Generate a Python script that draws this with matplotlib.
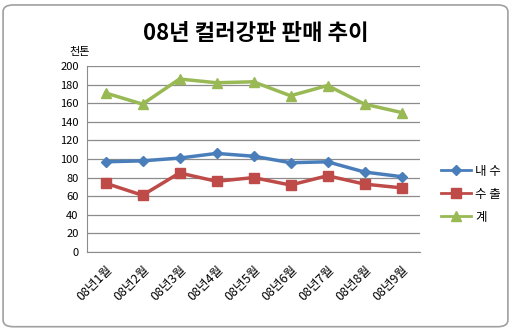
import matplotlib
matplotlib.use("Agg")
import matplotlib.pyplot as plt
from matplotlib.patches import FancyBboxPatch

plt.rcParams['font.family'] = ['Noto Sans CJK KR', 'DejaVu Sans']

months = ["08년1월", "08년2월", "08년3월", "08년4월", "08년5월",
          "08년6월", "08년7월", "08년8월", "08년9월"]
domestic = [97, 98, 101, 106, 103, 96, 97, 86, 81]
export = [74, 61, 85, 76, 80, 72, 82, 73, 69]
total = [171, 159, 186, 182, 183, 168, 179, 159, 150]

fig = plt.figure(figsize=(5.12, 3.30), dpi=100)
fig.patch.set_facecolor("white")

# rounded outer frame
frame = FancyBboxPatch((0.006, 0.01), 0.986, 0.975,
                       boxstyle="round,pad=0,rounding_size=0.02",
                       transform=fig.transFigure, fill=False,
                       edgecolor="#a0a0a0", linewidth=1.2)
fig.patches.append(frame)

ax = fig.add_axes([87 / 512, 1 - 252 / 330, 333 / 512, 186 / 330])
x = list(range(len(months)))

ax.plot(x, domestic, color="#4a7ebb", lw=2.5, marker="D", ms=5, label="내 수")
ax.plot(x, export, color="#be4b48", lw=2.5, marker="s", ms=7, label="수 출")
ax.plot(x, total, color="#98b954", lw=2.5, marker="^", ms=7, label="계")

ax.set_xlim(-0.5, len(months) - 0.5)
ax.set_ylim(0, 200)
ax.set_yticks(range(0, 201, 20))
ax.set_xticks(x)
ax.set_xticklabels(months, rotation=45, ha="right", rotation_mode="anchor",
                   fontsize=9)
ax.tick_params(axis="y", labelsize=8, length=0, pad=6)
ax.tick_params(axis="x", length=0, pad=8)
ax.yaxis.grid(True, color="#8c8c8c", lw=0.9)
ax.set_axisbelow(True)
for s in ["top", "right"]:
    ax.spines[s].set_visible(False)
ax.spines["left"].set_color("#8c8c8c")
ax.spines["bottom"].set_color("#8c8c8c")

fig.text(0.5, 0.897, "08년 컬러강판 판매 추이", ha="center", va="center",
         fontsize=16, fontweight="bold")
fig.text(69 / 512, 1 - 52 / 330, "천톤", ha="left", va="center", fontsize=8)

leg = ax.legend(loc="center left", bbox_to_anchor=(1.03, 0.31), frameon=False,
                fontsize=9, handlelength=2.4, labelspacing=0.8,
                handletextpad=0.3)
for h in leg.legend_handles:
    h.set_linewidth(2)

fig.savefig("out.png", dpi=100)
